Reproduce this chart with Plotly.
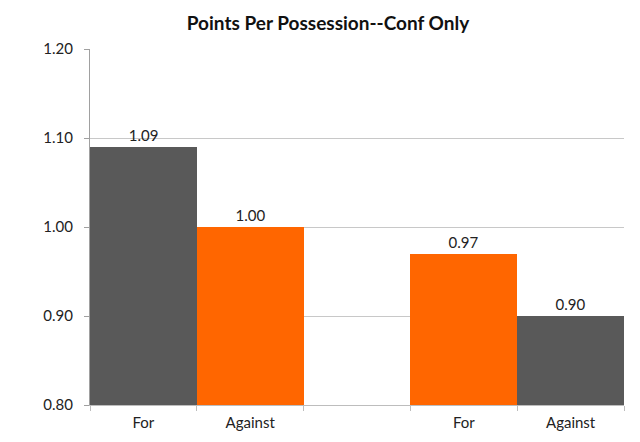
import plotly.graph_objects as go

# categories: For/Against, blank gap, For/Against
labels = ["For", "Against", "For", "Against"]
positions = [0, 1, 3, 4]
values = [1.09, 1.00, 0.97, 0.90]
colors = ["#595959", "#FF6600", "#FF6600", "#595959"]
yticks = [0.80, 0.90, 1.00, 1.10, 1.20]

fig = go.Figure()
fig.add_trace(go.Bar(
    x=positions, y=values, width=1,
    marker=dict(color=colors, line=dict(width=0)),
    text=[f"{v:.2f}" for v in values], textposition="outside",
    textfont=dict(size=15, color="#222"), cliponaxis=False,
))

fig.update_layout(
    width=640, height=442,
    margin=dict(l=82, r=24, t=41, b=45),
    paper_bgcolor="white", plot_bgcolor="white",
    font=dict(family="Lato", size=15, color="#222"),
    title=dict(text="<b>Points Per Possession--Conf Only</b>", x=0.5, xanchor="center",
               y=0.966, yanchor="middle", font=dict(size=19, color="#111")),
    showlegend=False,
    bargap=0,
)
fig.update_xaxes(
    range=[-0.5, 4.5], tickmode="array", tickvals=positions, ticktext=labels,
    showgrid=False, showline=True, linecolor="#BDBDBD", linewidth=1,
    ticks="", ticklabelstandoff=4,
    minor=dict(tickmode="linear", tick0=-0.5, dtick=1, ticks="outside",
               ticklen=5, tickcolor="#BDBDBD", showgrid=False),
)
fig.update_yaxes(
    range=[0.80, 1.20], tickmode="array", tickvals=yticks,
    ticktext=[f"{t:.2f}" for t in yticks],
    showgrid=True, gridcolor="#C8C8C8", gridwidth=1,
    showline=True, linecolor="#A0A0A0", linewidth=1,
    ticks="outside", ticklen=5, tickcolor="#A0A0A0",
    ticklabelstandoff=8, zeroline=False,
)

fig.write_html("out.html")
